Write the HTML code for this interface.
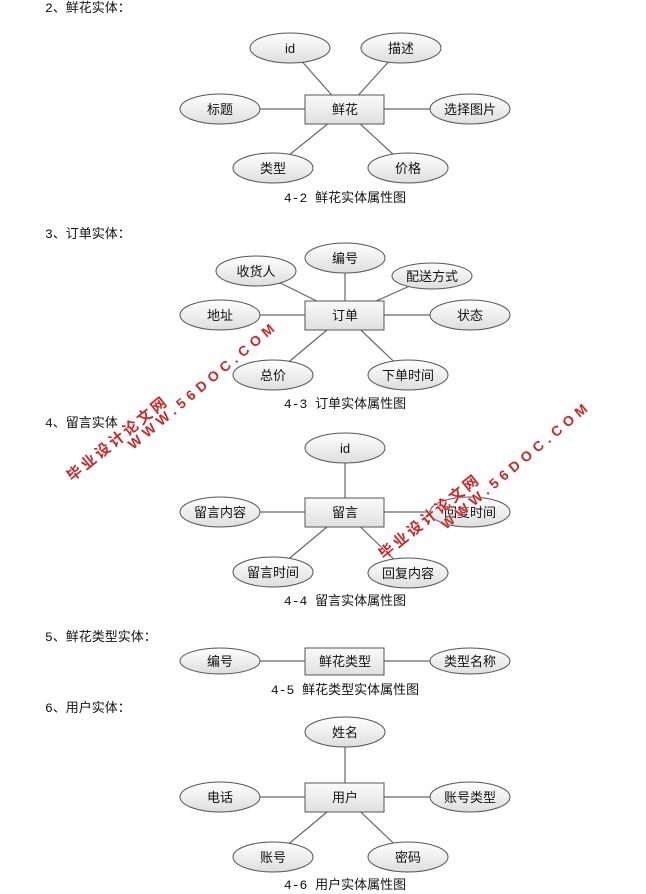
<!DOCTYPE html>
<html><head><meta charset="utf-8"><style>
html,body{margin:0;padding:0;background:#fff;}
svg{display:block;}
text{font-family:"Liberation Sans","Noto Sans CJK SC",sans-serif;}
.t{font-size:13px;fill:#111;}
.h{font-size:13px;fill:#111;font-family:"Liberation Mono","Noto Sans CJK SC",monospace;}
.l{stroke:#666;stroke-width:1.2;}
.e{fill:url(#ge);stroke:#555;stroke-width:1;}
.r{fill:url(#gr);stroke:#555;stroke-width:1;}
.w{font-weight:bold;fill:#c8282a;stroke:#fff;stroke-width:0.6;paint-order:stroke;}
</style></head><body>
<svg width="646" height="894" viewBox="0 0 646 894" xmlns="http://www.w3.org/2000/svg">
<defs>
<linearGradient id="ge" x1="0" y1="0" x2="0" y2="1"><stop offset="0" stop-color="#ffffff"/><stop offset="1" stop-color="#dedede"/></linearGradient>
<linearGradient id="gr" x1="0" y1="0" x2="0" y2="1"><stop offset="0" stop-color="#fafafa"/><stop offset="1" stop-color="#e0e0e0"/></linearGradient>
</defs>

<text class="h" x="45" y="12">2、鲜花实体：</text>
<text class="h" x="45" y="238">3、订单实体：</text>
<text class="h" x="45" y="427">4、留言实体</text>
<text class="h" x="45" y="641">5、鲜花类型实体：</text>
<text class="h" x="45" y="712">6、用户实体：</text>

<g>
<line class="l" x1="290" y1="48" x2="345" y2="110"/><line class="l" x1="401" y1="48" x2="345" y2="110"/>
<line class="l" x1="220" y1="109" x2="470" y2="109"/>
<line class="l" x1="273" y1="168" x2="345" y2="110"/><line class="l" x1="408" y1="168" x2="345" y2="110"/>
<ellipse class="e" cx="290" cy="48" rx="40" ry="15"/><text class="t" x="290" y="53" text-anchor="middle">id</text>
<ellipse class="e" cx="401" cy="48" rx="40" ry="15"/><text class="t" x="401" y="53" text-anchor="middle">描述</text>
<ellipse class="e" cx="220" cy="109" rx="40" ry="15"/><text class="t" x="220" y="114" text-anchor="middle">标题</text>
<ellipse class="e" cx="470" cy="109" rx="40" ry="15"/><text class="t" x="470" y="114" text-anchor="middle">选择图片</text>
<ellipse class="e" cx="273" cy="168" rx="40" ry="15"/><text class="t" x="273" y="173" text-anchor="middle">类型</text>
<ellipse class="e" cx="408" cy="168" rx="40" ry="15"/><text class="t" x="408" y="173" text-anchor="middle">价格</text>
<rect class="r" x="305" y="95" width="79" height="29"/><text class="t" x="345" y="114" text-anchor="middle">鲜花</text>
<text class="h" x="345" y="202" text-anchor="middle">4-2 鲜花实体属性图</text>
</g>

<g>
<line class="l" x1="256" y1="271" x2="345" y2="315"/><line class="l" x1="345" y1="258" x2="345" y2="315"/><line class="l" x1="432" y1="276" x2="345" y2="315"/>
<line class="l" x1="220" y1="315" x2="470" y2="315"/>
<line class="l" x1="273" y1="375" x2="345" y2="315"/><line class="l" x1="408" y1="375" x2="345" y2="315"/>
<ellipse class="e" cx="256" cy="271" rx="40" ry="15"/><text class="t" x="256" y="276" text-anchor="middle">收货人</text>
<ellipse class="e" cx="345" cy="258" rx="40" ry="15"/><text class="t" x="345" y="263" text-anchor="middle">编号</text>
<ellipse class="e" cx="432" cy="276" rx="40" ry="13"/><text class="t" x="432" y="281" text-anchor="middle">配送方式</text>
<ellipse class="e" cx="220" cy="315" rx="40" ry="15"/><text class="t" x="220" y="320" text-anchor="middle">地址</text>
<ellipse class="e" cx="470" cy="315" rx="40" ry="15"/><text class="t" x="470" y="320" text-anchor="middle">状态</text>
<ellipse class="e" cx="273" cy="375" rx="40" ry="15"/><text class="t" x="273" y="380" text-anchor="middle">总价</text>
<ellipse class="e" cx="408" cy="375" rx="40" ry="15"/><text class="t" x="408" y="380" text-anchor="middle">下单时间</text>
<rect class="r" x="305" y="301" width="79" height="29"/><text class="t" x="345" y="320" text-anchor="middle">订单</text>
<text class="h" x="345" y="408" text-anchor="middle">4-3 订单实体属性图</text>
</g>

<g>
<line class="l" x1="345" y1="448" x2="345" y2="512"/>
<line class="l" x1="220" y1="512" x2="470" y2="512"/>
<line class="l" x1="273" y1="572" x2="345" y2="512"/><line class="l" x1="408" y1="573" x2="345" y2="512"/>
<ellipse class="e" cx="345" cy="448" rx="40" ry="15"/><text class="t" x="345" y="453" text-anchor="middle">id</text>
<ellipse class="e" cx="220" cy="512" rx="40" ry="15"/><text class="t" x="220" y="517" text-anchor="middle">留言内容</text>
<ellipse class="e" cx="470" cy="512" rx="40" ry="15"/><text class="t" x="470" y="517" text-anchor="middle">回复时间</text>
<ellipse class="e" cx="273" cy="572" rx="40" ry="15"/><text class="t" x="273" y="577" text-anchor="middle">留言时间</text>
<ellipse class="e" cx="408" cy="573" rx="40" ry="15"/><text class="t" x="408" y="578" text-anchor="middle">回复内容</text>
<rect class="r" x="305" y="498" width="79" height="29"/><text class="t" x="345" y="517" text-anchor="middle">留言</text>
<text class="h" x="345" y="605" text-anchor="middle">4-4 留言实体属性图</text>
</g>

<g>
<line class="l" x1="220" y1="661" x2="470" y2="661"/>
<ellipse class="e" cx="220" cy="661" rx="40" ry="13"/><text class="t" x="220" y="666" text-anchor="middle">编号</text>
<ellipse class="e" cx="470" cy="661" rx="40" ry="13"/><text class="t" x="470" y="666" text-anchor="middle">类型名称</text>
<rect class="r" x="305" y="648" width="79" height="27"/><text class="t" x="345" y="666" text-anchor="middle">鲜花类型</text>
<text class="h" x="345" y="694" text-anchor="middle">4-5 鲜花类型实体属性图</text>
</g>

<g>
<line class="l" x1="345" y1="732" x2="345" y2="797"/>
<line class="l" x1="220" y1="797" x2="470" y2="797"/>
<line class="l" x1="273" y1="857" x2="345" y2="797"/><line class="l" x1="408" y1="857" x2="345" y2="797"/>
<ellipse class="e" cx="345" cy="732" rx="40" ry="15"/><text class="t" x="345" y="737" text-anchor="middle">姓名</text>
<ellipse class="e" cx="220" cy="797" rx="40" ry="15"/><text class="t" x="220" y="802" text-anchor="middle">电话</text>
<ellipse class="e" cx="470" cy="797" rx="40" ry="15"/><text class="t" x="470" y="802" text-anchor="middle">账号类型</text>
<ellipse class="e" cx="273" cy="857" rx="40" ry="15"/><text class="t" x="273" y="862" text-anchor="middle">账号</text>
<ellipse class="e" cx="408" cy="857" rx="40" ry="15"/><text class="t" x="408" y="862" text-anchor="middle">密码</text>
<rect class="r" x="305" y="783" width="79" height="29"/><text class="t" x="345" y="802" text-anchor="middle">用户</text>
<text class="h" x="345" y="889" text-anchor="middle">4-6 用户实体属性图</text>
</g>

<g transform="translate(72,482) rotate(-39)"><text class="w" x="0" y="0" font-size="15" letter-spacing="3">毕业设计论文网</text></g>
<g transform="translate(133,450) rotate(-40)"><text class="w" x="0" y="0" font-size="14" letter-spacing="5">WWW.56DOC.COM</text></g>
<g transform="translate(384,560) rotate(-39)"><text class="w" x="0" y="0" font-size="15" letter-spacing="3">毕业设计论文网</text></g>
<g transform="translate(446,530) rotate(-40)"><text class="w" x="0" y="0" font-size="14" letter-spacing="5">WWW.56DOC.COM</text></g>
</svg>
</body></html>
